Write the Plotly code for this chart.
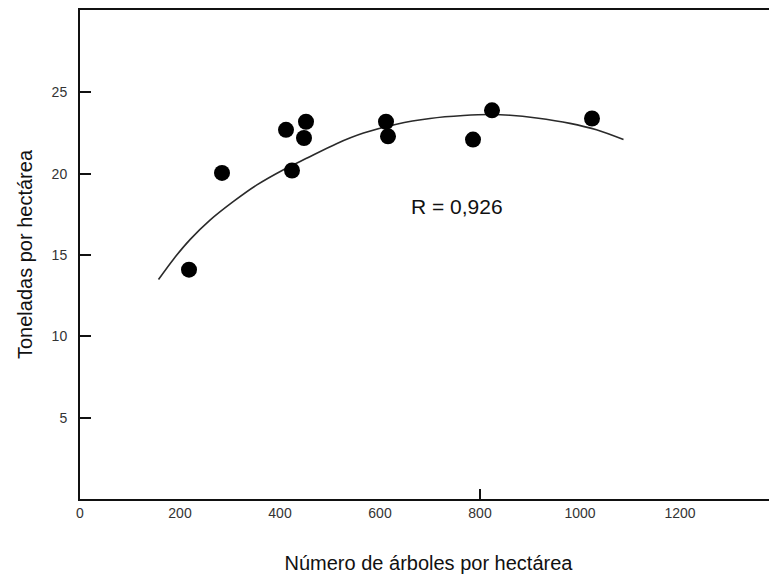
import plotly.graph_objects as go

# Observed points (trees per hectare, tonnes per hectare)
arboles = [218, 284, 412, 424, 448, 452, 612, 616, 786, 824, 1024]
toneladas = [14.1, 20.05, 22.7, 20.2, 22.2, 23.2, 23.2, 22.3, 22.1, 23.9, 23.4]

# Fitted curve
curva_x = [157, 187, 220, 260, 307, 353, 407, 453, 513, 567, 633, 700, 767, 820, 860, 913, 980, 1033, 1087]
curva_y = [13.5, 14.75, 15.95, 17.15, 18.3, 19.3, 20.25, 20.95, 21.85, 22.5, 23.05, 23.4, 23.58, 23.64, 23.6, 23.43, 23.1, 22.7, 22.1]

x_ticks = [0, 200, 400, 600, 800, 1000, 1200]
y_ticks = [5, 10, 15, 20, 25]

FONT = "Liberation Sans, Arial, Helvetica, sans-serif"

fig = go.Figure()
fig.add_trace(go.Scatter(
    x=curva_x, y=curva_y, mode="lines",
    line=dict(color="#2a2a2a", width=1.6, shape="spline", smoothing=0.8),
    hoverinfo="skip", showlegend=False))
fig.add_trace(go.Scatter(
    x=arboles, y=toneladas, mode="markers",
    marker=dict(color="black", size=16, line=dict(width=0)),
    showlegend=False))

fig.add_annotation(x=754, y=17.96, xref="x", yref="y", text="R = 0,926",
                   showarrow=False, font=dict(family=FONT, size=21, color="#111"))

fig.update_layout(
    width=769, height=566,
    margin=dict(l=72, r=0, t=2, b=75),
    paper_bgcolor="white", plot_bgcolor="white",
    font=dict(family=FONT, color="#222"),
    xaxis=dict(
        range=[0, 1394], tickvals=x_ticks, ticks="", showgrid=False, zeroline=False,
        showline=True, linecolor="#111", linewidth=2, mirror=True,
        tickfont=dict(size=14, color="#333"),
        minor=dict(tickvals=[800], ticks="inside", ticklen=10, tickwidth=1.5, tickcolor="#111", showgrid=False),
        title=dict(text="Número de árboles por hectárea", font=dict(size=20, color="#111"), standoff=38),
    ),
    yaxis=dict(
        range=[0, 30.07], tickvals=y_ticks, ticks="inside", ticklen=11, tickwidth=1.5, tickcolor="#111",
        showgrid=False, zeroline=False, showline=True, linecolor="#111", linewidth=2, mirror=False,
        tickfont=dict(size=14, color="#333"), ticklabelstandoff=8,
        title=dict(text="Toneladas por hectárea", font=dict(size=20, color="#111"), standoff=14),
    ),
)

fig.write_html("out.html")
